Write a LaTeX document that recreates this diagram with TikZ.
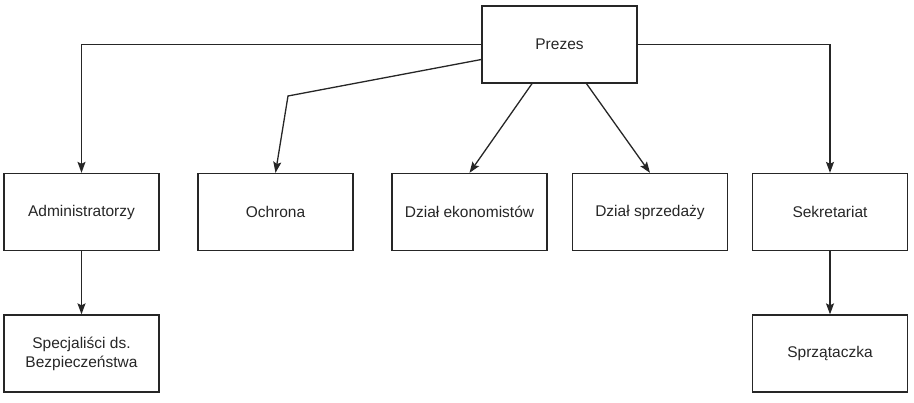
\documentclass[tikz,border=0pt]{standalone}
\usepackage{fontspec}
\setmainfont{Liberation Sans}
\usetikzlibrary{arrows.meta}
\begin{document}
\begin{tikzpicture}[x=1pt,y=-1pt,
  box/.style={draw=black!85, line width=1.3pt, minimum width=155pt, minimum height=77pt,
    inner sep=2pt, align=center, text=black!85, font=\fontsize{15.5}{19}\selectfont},
  arr/.style={draw=black!85, line width=1.3pt, -{Stealth[length=11pt,width=8pt,inset=2pt]}}]
\useasboundingbox (0,0) rectangle (914,403);
\node[box] (prezes) at (559.5,44.5) {Prezes};
\node[box] (adm) at (81.5,212) {Administratorzy};
\node[box] (och) at (275.5,212) {Ochrona};
\node[box] (eko) at (469.5,212) {Dział ekonomistów};
\node[box] (spr) at (650,212) {Dział sprzedaży};
\node[box] (sek) at (830,212) {Sekretariat};
\node[box] (spec) at (81.5,353.5) {Specjaliści ds.\\Bezpieczeństwa};
\node[box] (sprz) at (830,353.5) {Sprzątaczka};
\coordinate (bend) at (288,96);
\draw[arr] (prezes.west) -| (adm.north);
\draw[arr] ([yshift=-15pt]prezes.west) -- (bend) -- (och.north);
\draw[arr] ([xshift=-27.5pt]prezes.south) -- (eko.north);
\draw[arr] ([xshift=27pt]prezes.south) -- (spr.north);
\draw[arr] (prezes.east) -| (sek.north);
\draw[arr] (adm.south) -- (spec.north);
\draw[arr] (sek.south) -- (sprz.north);
\end{tikzpicture}
\end{document}
